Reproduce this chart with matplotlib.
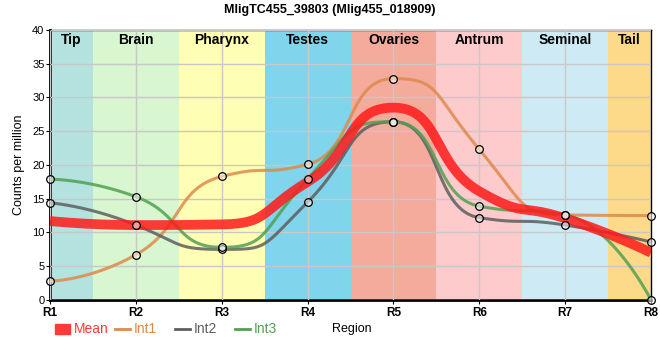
import numpy as np
import matplotlib
matplotlib.use("Agg")
import matplotlib.pyplot as plt
from matplotlib.patches import Rectangle
from matplotlib.lines import Line2D

plt.rcParams['font.family'] = ['Liberation Sans', 'DejaVu Sans']

# data
regions = ["R1", "R2", "R3", "R4", "R5", "R6", "R7", "R8"]
bands = ["Tip", "Brain", "Pharynx", "Testes", "Ovaries", "Antrum", "Seminal", "Tail"]
band_colors = ["#b4e2df", "#d8f6d0", "#fefeb4", "#80d4ec", "#f4ab9c",
               "#fecbcc", "#ceebf5", "#fdd98a"]
mean = [11.7, 11.1, 11.2, 17.5, 28.5, 16.1, 12.1, 7.0]
int1 = [2.8, 6.7, 18.3, 20.1, 32.8, 22.3, 12.6, 12.5]
int2 = [14.4, 11.1, 7.5, 14.5, 26.4, 12.2, 11.1, 8.6]
int3 = [17.9, 15.3, 7.8, 17.9, 26.4, 13.9, 12.6, 0.0]


def spline(x, y, n=60, c=0.55, k=1.5):
    # bezier spline, control points clamped so no false extremes
    x = np.asarray(x, float)
    y = np.asarray(y, float)
    num = len(x)
    lc = [(x[i], y[i]) for i in range(num)]
    rc = [(x[i], y[i]) for i in range(num)]
    for i in range(1, num - 1):
        h = x[i + 1] - x[i]
        m = k * (y[i + 1] - y[i - 1]) / (x[i + 1] - x[i - 1])
        ly = y[i] - c * h * m
        ry = y[i] + c * h * m
        if ly > y[i - 1] and ly > y[i]:
            ly = max(y[i - 1], y[i])
            ry = 2 * y[i] - ly
        elif ly < y[i - 1] and ly < y[i]:
            ly = min(y[i - 1], y[i])
            ry = 2 * y[i] - ly
        if ry > y[i + 1] and ry > y[i]:
            ry = max(y[i + 1], y[i])
            ly = 2 * y[i] - ry
        elif ry < y[i + 1] and ry < y[i]:
            ry = min(y[i + 1], y[i])
            ly = 2 * y[i] - ry
        lc[i] = (x[i] - c * h, ly)
        rc[i] = (x[i] + c * h, ry)
    u = np.linspace(0, 1, n)[:, None]
    pts = []
    for i in range(num - 1):
        p0 = np.array([x[i], y[i]])
        p1 = np.array(rc[i])
        p2 = np.array(lc[i + 1])
        p3 = np.array([x[i + 1], y[i + 1]])
        b = ((1 - u) ** 3) * p0 + 3 * ((1 - u) ** 2) * u * p1 + 3 * (1 - u) * u ** 2 * p2 + u ** 3 * p3
        pts.append(b)
    pts = np.vstack(pts)
    return pts[:, 0], pts[:, 1]


xpos = np.arange(1, len(regions) + 1)

fig = plt.figure(figsize=(6.6, 3.6), dpi=100)
ax = fig.add_axes([0.0758, 0.1667, 0.9106, 0.75])

for i, (b, col) in enumerate(zip(bands, band_colors)):
    lo = max(xpos[i] - 0.5, xpos[0])
    hi = min(xpos[i] + 0.5, xpos[-1])
    ax.axvspan(lo, hi, color=col, lw=0, zorder=0)
    ax.text((lo + hi) / 2, 38.5, b, ha="center", va="center",
            fontsize=10, fontweight="bold", zorder=5)

ax.grid(True, color="#c8c8c8", lw=1, zorder=1)
ax.set_axisbelow(False)

series = [("Int1", int1, "#dd8a4c"), ("Int2", int2, "#5e5e5e"), ("Int3", int3, "#52a052")]
for name, vals, col in series:
    sx, sy = spline(xpos, vals)
    ax.plot(sx, sy, color=col, lw=2.2, alpha=0.85, zorder=3, solid_capstyle="butt")

mx, my = spline(xpos, mean, k=0.9)
ax.plot(mx, my, color="#ff1a1a", lw=7, alpha=0.85, zorder=4, solid_capstyle="butt")

for name, vals, col in series:
    ax.plot(xpos, vals, ls="none", marker="o", ms=5.5, mfc=(1, 1, 1, 0.55),
            mec="black", mew=0.9, zorder=6, clip_on=False)

ax.set_xlim(xpos[0], xpos[-1])
ax.set_ylim(0, 40)
ax.set_xticks(xpos)
ax.set_xticklabels(regions, fontweight="bold", fontsize=8.5)
ax.set_yticks(np.arange(0, 41, 5))
ax.tick_params(axis="y", labelsize=8, length=3, pad=1)
ax.tick_params(axis="x", length=3, pad=2)
for sp in ["left", "bottom"]:
    ax.spines[sp].set_linewidth(2)
for sp in ["top", "right"]:
    ax.spines[sp].set_linewidth(1)

ax.set_ylabel("Counts per million", fontsize=9, labelpad=5)
fig.text(0.5, 0.972, "MligTC455_39803 (Mlig455_018909)", ha="center", va="center",
         fontsize=9, fontweight="bold")
fig.text(0.503, 0.086, "Region", ha="left", va="center", fontsize=9)

# legend drawn by hand, one entry every 60 px
leg_names = ["Mean"] + [n for n, _, _ in series]
leg_cols = ["#ff3838"] + [col for _, _, col in series]
for j, (nm, col) in enumerate(zip(leg_names, leg_cols)):
    x0 = (55 + 60 * j) / 660
    y0 = 0.086
    if j == 0:
        fig.add_artist(Rectangle((x0, y0 - 0.014), 15 / 660, 0.028, color=col,
                                 transform=fig.transFigure))
    else:
        fig.add_artist(Line2D([x0, x0 + 15 / 660], [y0, y0], color=col, lw=2,
                              transform=fig.transFigure))
    fig.text(x0 + 19 / 660, y0, nm, color=col, fontsize=10, ha="left", va="center")

fig.savefig("out.png", dpi=100)
